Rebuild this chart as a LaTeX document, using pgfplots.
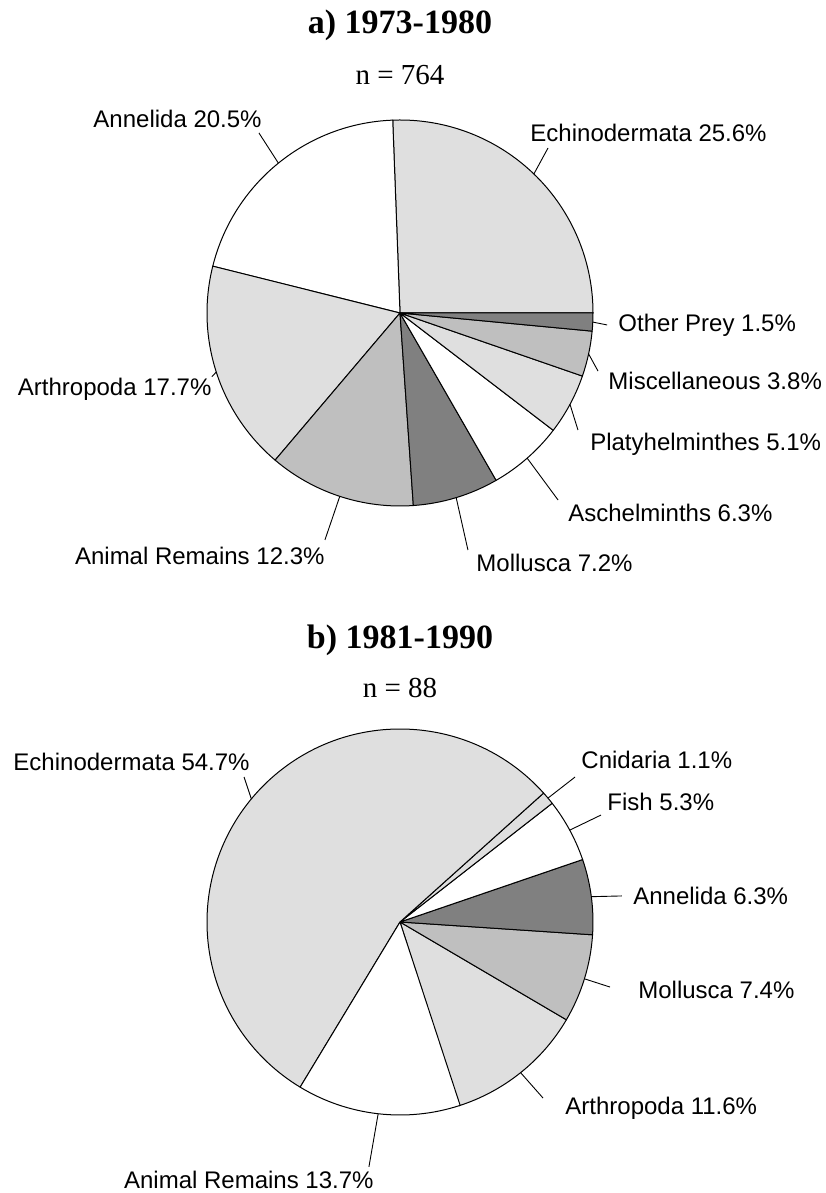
\documentclass[border=0pt]{standalone}
\usepackage{pgfplots}
\pgfplotsset{compat=1.18}
\usepackage{pgfplotstable}
\usepackage{fontspec}
\setmainfont{Liberation Serif}
\newfontfamily\lblfont{Liberation Sans}

\definecolor{pieL}{gray}{0.875}
\definecolor{pieM}{gray}{0.75}
\definecolor{pieD}{gray}{0.5}

% a) 1973-1980, slices counter-clockwise from 0 deg
% lx,ly = outer end of leader; tx,ty = label anchor (axis units, radius 1)
\pgfplotstableread[col sep=comma]{
name,pct,fill,lx,ly,tx,ty,anc
Echinodermata,25.6,pieL,0.767,0.855,0.674,0.933,west
Annelida,20.5,white,-0.731,0.933,-0.715,1.005,east
Arthropoda,17.7,pieL,-0.975,-0.33,-0.975,-0.394,east
Animal Remains,12.3,pieM,-0.389,-1.176,-0.389,-1.259,east
Mollusca,7.2,pieD,0.352,-1.228,0.394,-1.295,west
Aschelminths,6.3,white,0.819,-0.969,0.870,-1.036,west
Platyhelminthes,5.1,pieL,0.922,-0.606,0.984,-0.679,west
Miscellaneous,3.8,pieM,1.026,-0.301,1.078,-0.352,west
Other Prey,1.5,pieD,1.073,-0.062,1.130,-0.062,west
}\pieA

% b) 1981-1990, slices counter-clockwise from -72.2 deg
\pgfplotstableread[col sep=comma]{
name,pct,fill,lx,ly,tx,ty,anc
Arthropoda,11.6,pieL,0.741,-0.912,0.855,-0.964,west
Mollusca,7.4,pieM,1.088,-0.337,1.233,-0.352,west
Annelida,6.3,pieD,1.150,0.135,1.207,0.135,west
Fish,5.3,white,1.041,0.554,1.073,0.622,west
Cnidaria,1.1,pieL,0.907,0.751,0.938,0.839,west
Echinodermata,54.7,pieL,-0.808,0.751,-0.777,0.829,east
Animal Remains,13.7,white,-0.161,-1.269,-0.135,-1.337,east
}\pieB

% #1 table, #2 start angle, #3 last row index
\newcommand\pieslices[3]{%
  \pgfmathsetmacro\angA{#2}%
  \pgfplotsforeachungrouped \i in {0,...,#3}{%
    \pgfplotstablegetelem{\i}{pct}\of{#1}\let\pct\pgfplotsretval
    \pgfplotstablegetelem{\i}{fill}\of{#1}\let\fc\pgfplotsretval
    \pgfplotstablegetelem{\i}{name}\of{#1}\let\nm\pgfplotsretval
    \pgfplotstablegetelem{\i}{lx}\of{#1}\let\lx\pgfplotsretval
    \pgfplotstablegetelem{\i}{ly}\of{#1}\let\ly\pgfplotsretval
    \pgfplotstablegetelem{\i}{tx}\of{#1}\let\tx\pgfplotsretval
    \pgfplotstablegetelem{\i}{ty}\of{#1}\let\ty\pgfplotsretval
    \pgfplotstablegetelem{\i}{anc}\of{#1}\let\an\pgfplotsretval
    \pgfmathsetmacro\angB{\angA+3.6*\pct}%
    \pgfmathsetmacro\angM{(\angA+\angB)/2}%
    \pgfmathsetmacro\xA{cos(\angA)}\pgfmathsetmacro\yA{sin(\angA)}%
    \pgfmathsetmacro\xM{cos(\angM)}\pgfmathsetmacro\yM{sin(\angM)}%
    \edef\cmd{%
      \noexpand\filldraw[fill=\fc,draw=black,line width=0.5pt,line join=round]
        (axis cs:0,0) -- (axis cs:\xA,\yA)
        arc[start angle=\angA,end angle=\angB,radius=96.5pt] -- cycle;
      \noexpand\draw[line width=0.45pt] (axis cs:\xM,\yM) -- (axis cs:\lx,\ly);
      \noexpand\node[anchor=\an,inner sep=0pt,font=\noexpand\lblfont\noexpand\fontsize{12}{14}\noexpand\selectfont]
        at (axis cs:\tx,\ty) {\nm\space\pct\noexpand\%};%
    }%
    \cmd
    \let\angA\angB
  }%
}

\pgfplotsset{pie/.style={x=96.5pt,y=96.5pt,xmin=-1.1,xmax=1.1,ymin=-1.1,ymax=1.1,
  hide axis,clip=false,anchor=origin}}

\begin{document}
\begin{tikzpicture}
\useasboundingbox (0,0) rectangle (412.5pt,596.5pt);
\begin{axis}[pie,at={(200pt,440pt)}]
\pieslices{\pieA}{0}{8}
\node[font={\fontsize{17}{20}\selectfont\bfseries}] at (axis cs:0,1.492) {a) 1973-1980};
\node[font={\fontsize{14.5}{17}\selectfont}] at (axis cs:0,1.233) {n = 764};
\end{axis}
\begin{axis}[pie,at={(200pt,135.5pt)}]
\pieslices{\pieB}{-72.2}{6}
\node[font={\fontsize{17}{20}\selectfont\bfseries}] at (axis cs:0,1.461) {b) 1981-1990};
\node[font={\fontsize{14.5}{17}\selectfont}] at (axis cs:0,1.212) {n = 88};
\end{axis}
\end{tikzpicture}
\end{document}
